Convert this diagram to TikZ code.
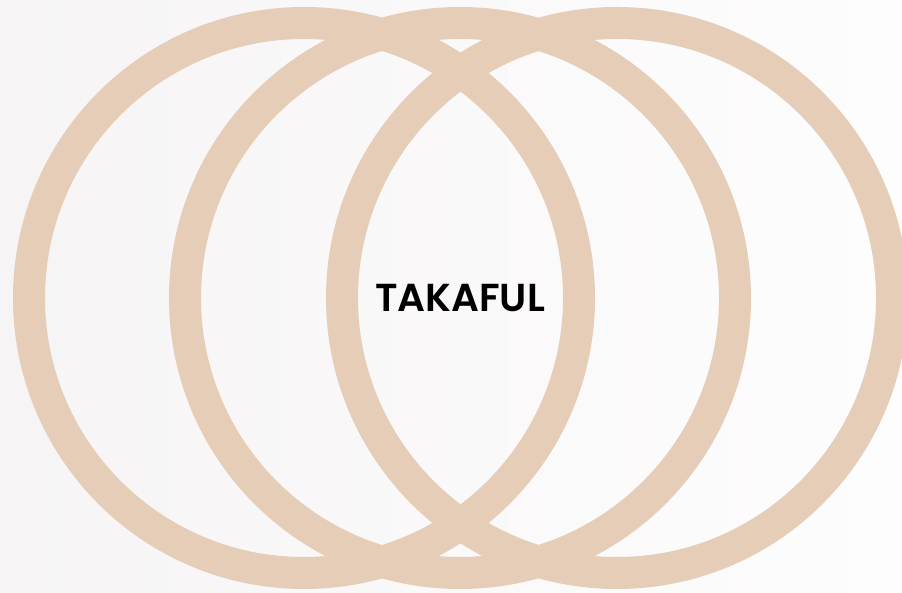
\documentclass[tikz,border=0pt]{standalone}
\usepackage{fontspec}
\setmainfont{Poppins}[BoldFont={Poppins SemiBold}]
\definecolor{anillo}{HTML}{E6CDB7}
\definecolor{fondoA}{HTML}{F6F4F5}
\definecolor{fondoB}{HTML}{FEFDFE}
\begin{document}
\begin{tikzpicture}[x=1pt, y=1pt]
            % Fondo y recorte
            \useasboundingbox (0,0) rectangle (902,593);
            \clip (0,0) rectangle (902,593);
            \shade[left color=fondoA, right color=fondoB] (0,0) rectangle (902,593);

            % Tres anillos
            \foreach \cx in {304, 460, 617}
                \draw[anillo, line width=32pt] (\cx, 295) circle (275);

            % Texto central
            \node[font=\fontsize{39}{41}\selectfont\bfseries] (takaful) at (460, 295) {TAKAFUL};
        \end{tikzpicture}
\end{document}
